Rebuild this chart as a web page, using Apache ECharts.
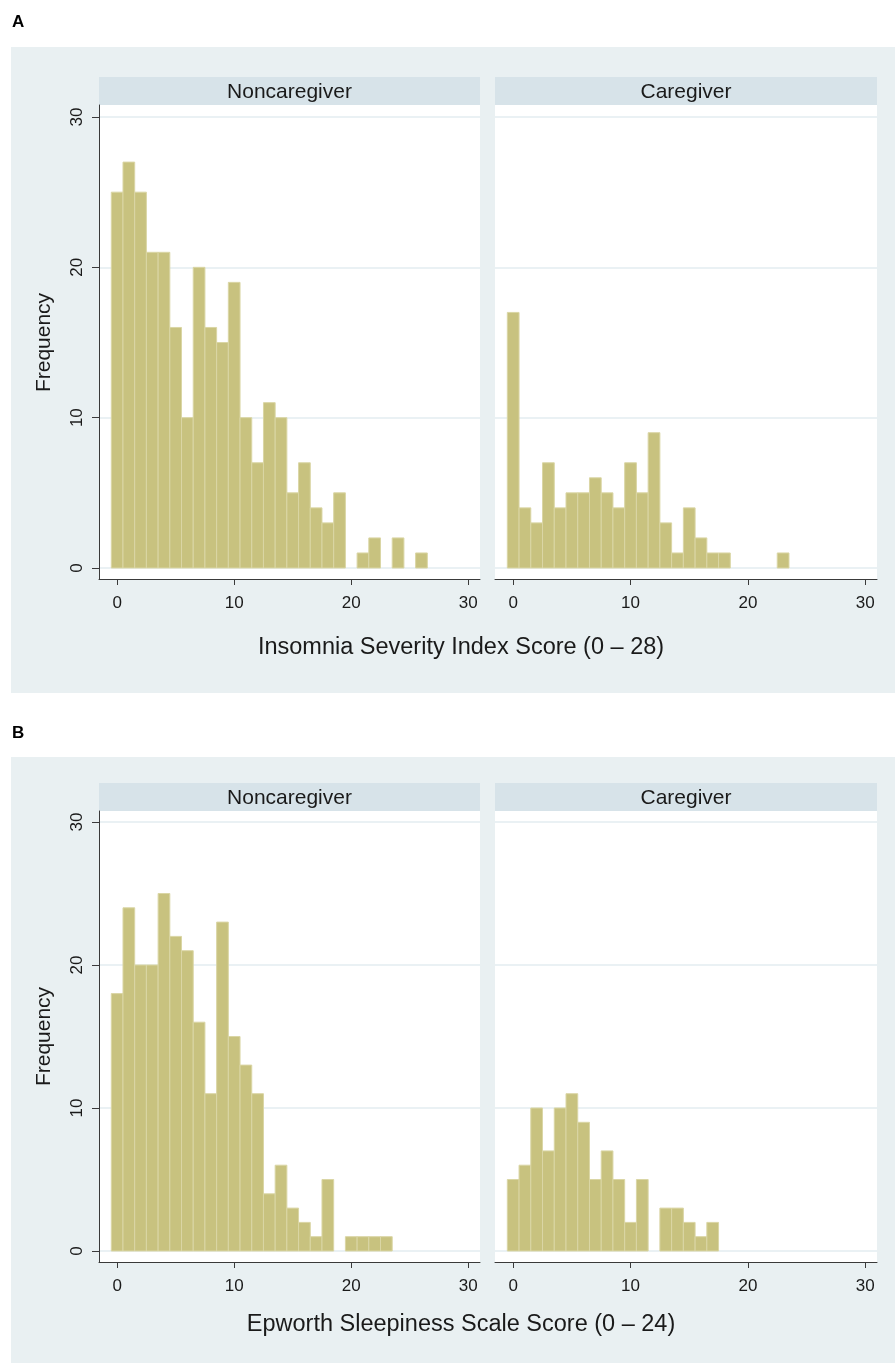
<!DOCTYPE html>
<html>
<head>
<meta charset="utf-8">
<script src="https://cdn.jsdelivr.net/npm/echarts@6/dist/echarts.min.js"></script>
<style>
  html, body { margin:0; padding:0; background:#ffffff; }
  #wrap { position:relative; width:895px; height:1363px; }
  .bg { position:absolute; background:#e9f0f2; }
  #chart { position:absolute; left:0; top:0; width:895px; height:1363px; }
</style>
</head>
<body>
<div id="wrap">
  <div class="bg" style="left:11px; top:47px; width:884px; height:646px;"></div>
  <div class="bg" style="left:11px; top:757px; width:884px; height:606px;"></div>
  <div id="chart"></div>
</div>
<script>
// ---------------- DATA ----------------
const facetNames = ['Noncaregiver', 'Caregiver'];
// Insomnia Severity Index: frequency for score 0,1,2,...
const isiNoncaregiver = [25,27,25,21,21,16,10,20,16,15,19,10,7,11,10,5,7,4,3,5,0,1,2,0,2,0,1];
const isiCaregiver    = [17,4,3,7,4,5,5,6,5,4,7,5,9,3,1,4,2,1,1,0,0,0,0,1];
// Epworth Sleepiness Scale: frequency for score 0,1,2,...
const essNoncaregiver = [18,24,20,20,25,22,21,16,11,23,15,13,11,4,6,3,2,1,5,0,1,1,1,1];
const essCaregiver    = [5,6,10,7,10,11,9,5,7,5,2,5,0,3,3,2,1,2];
const xTicks = [0, 10, 20, 30];
const yTicks = [0, 10, 20, 30];
const panelLabels = ['A', 'B'];
const xTitles = ['Insomnia Severity Index Score (0 \u2013 28)', 'Epworth Sleepiness Scale Score (0 \u2013 24)'];
const yTitle = 'Frequency';

// ---------------- LAYOUT ----------------
const FONT = '"Liberation Sans", Arial, sans-serif';
const TXT = '#1a1a1a';
const AX = '#3a3a3a';
const BAR = '#c8c27f';
const BAR_EDGE = '#dad6a5';
const GRIDC = '#e3ecf0';
const STRIP = '#d7e3e9';

const panels = [
  { label: panelLabels[0], labelY: 24, stripTop: 77, plotTop: 105, plotBottom: 579, y30: 117, y0: 568,
    title: xTitles[0], titleY: 648, series: [isiNoncaregiver, isiCaregiver] },
  { label: panelLabels[1], labelY: 735, stripTop: 783, plotTop: 811, plotBottom: 1262, y30: 822, y0: 1251,
    title: xTitles[1], titleY: 1325, series: [essNoncaregiver, essCaregiver] }
];
const facets = [ { left: 99, width: 381 }, { left: 495, width: 382 } ];
const XMIN = -1.55, XMAX = 31.0;

const grid = [], xAxis = [], yAxis = [], series = [], graphic = [];

function renderItem(params, api) {
  const x = api.value(0), v = api.value(1);
  if (!v) return null;
  const p1 = api.coord([x - 0.5, v]);
  const p2 = api.coord([x + 0.5, 0]);
  return {
    type: 'rect',
    shape: { x: p1[0], y: p1[1], width: p2[0] - p1[0], height: p2[1] - p1[1] },
    style: { fill: BAR, stroke: BAR_EDGE, lineWidth: 1 }
  };
}

panels.forEach((p, pi) => {
  graphic.push({ type: 'text', left: 12, top: p.labelY - 10,
    style: { text: p.label, font: 'bold 17px ' + FONT, fill: '#000' } });
  graphic.push({ type: 'text', x: 461, y: p.titleY,
    style: { text: p.title, font: '23.5px ' + FONT, fill: TXT, textAlign: 'center', textVerticalAlign: 'middle' } });

  facets.forEach((f, fi) => {
    // strip
    graphic.push({ type: 'rect', shape: { x: f.left, y: p.stripTop, width: f.width, height: p.plotTop - p.stripTop },
      style: { fill: STRIP } });
    graphic.push({ type: 'text', x: f.left + f.width / 2, y: (p.stripTop + p.plotTop) / 2 + 1,
      style: { text: facetNames[fi], font: '21px ' + FONT, fill: TXT, textAlign: 'center', textVerticalAlign: 'middle' } });

    const showY = fi === 0;
    // frame grid (white plot region + axis lines)
    const gFrame = grid.length;
    grid.push({ left: f.left, width: f.width, top: p.plotTop, height: p.plotBottom - p.plotTop,
      show: true, backgroundColor: '#ffffff', borderWidth: 0 });
    xAxis.push({ gridIndex: gFrame, type: 'value', min: 0, max: 1,
      axisLine: { show: true, onZero: false, lineStyle: { color: AX, width: 1 } },
      axisTick: { show: false }, axisLabel: { show: false }, splitLine: { show: false } });
    yAxis.push({ gridIndex: gFrame, type: 'value', min: 0, max: 1,
      axisLine: { show: showY, onZero: false, lineStyle: { color: AX, width: 1 } },
      axisTick: { show: false }, axisLabel: { show: false }, splitLine: { show: false } });

    // data grid
    const gData = grid.length;
    grid.push({ left: f.left, width: f.width, top: p.y30, height: p.y0 - p.y30, show: false });
    xAxis.push({ gridIndex: gData, type: 'value', min: XMIN, max: XMAX,
      offset: p.plotBottom - p.y0,
      axisLine: { show: false, onZero: false },
      axisTick: { show: true, customValues: xTicks, length: 6, lineStyle: { color: AX } },
      axisLabel: { show: true, customValues: xTicks, margin: 16, color: TXT, fontSize: 17, fontFamily: FONT },
      splitLine: { show: false } });
    yAxis.push({ gridIndex: gData, type: 'value', min: 0, max: 30, interval: 10,
      axisLine: { show: false, onZero: false },
      axisTick: { show: showY, length: 7, lineStyle: { color: AX } },
      axisLabel: { show: showY, rotate: 90, margin: 13, color: TXT, fontSize: 17, fontFamily: FONT,
        customValues: yTicks },
      splitLine: { show: true, lineStyle: { color: GRIDC, width: 1.5 } },
      name: showY ? yTitle : '', nameLocation: 'middle', nameGap: 44, nameRotate: 90,
      nameTextStyle: { color: TXT, fontSize: 21, fontFamily: FONT } });

    series.push({ type: 'custom', xAxisIndex: gData, yAxisIndex: gData, renderItem: renderItem,
      encode: { x: 0, y: 1 }, clip: false, silent: true,
      data: p.series[fi].map((v, i) => [i, v]) });
  });
});

const chart = echarts.init(document.getElementById('chart'), null, { renderer: 'canvas' });
chart.setOption({
  backgroundColor: 'transparent',
  animation: false,
  grid: grid, xAxis: xAxis, yAxis: yAxis, series: series, graphic: graphic
});
</script>
</body>
</html>
